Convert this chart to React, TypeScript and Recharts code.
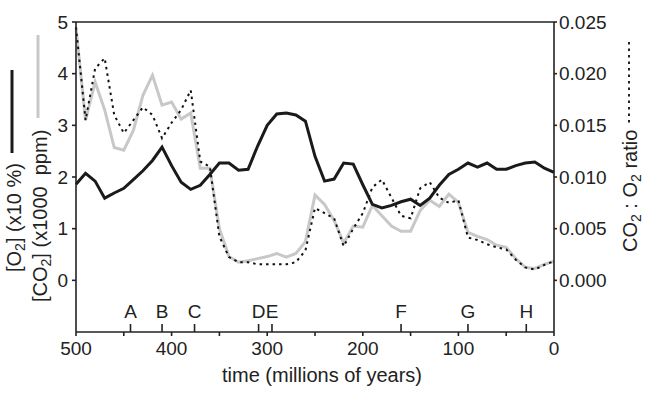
import { LineChart, Line, XAxis, YAxis, ReferenceLine, ReferenceDot } from "recharts";

const FONT = '"Liberation Sans", Arial, sans-serif';

// time in millions of years before present
const times = [
  500, 490, 480, 470, 460, 450, 440, 430, 420, 410, 400, 390, 380, 370, 360, 350, 340,
  330, 320, 310, 300, 290, 280, 270, 260, 250, 240, 230, 220, 210, 200, 190, 180, 170,
  160, 150, 140, 130, 120, 110, 100, 90, 80, 70, 60, 50, 40, 30, 20, 10, 0,
];

// [O2] (x10 %)
const o2 = [
  1.86, 2.07, 1.92, 1.59, 1.69, 1.78, 1.95, 2.12, 2.32, 2.58, 2.22, 1.9, 1.76, 1.84, 2.05,
  2.27, 2.27, 2.13, 2.15, 2.6, 3.0, 3.22, 3.24, 3.2, 3.08, 2.4, 1.92, 1.96, 2.27, 2.25,
  1.85, 1.47, 1.4, 1.45, 1.52, 1.57, 1.45, 1.59, 1.84, 2.05, 2.15, 2.27, 2.19, 2.27, 2.15,
  2.15, 2.22, 2.27, 2.29, 2.17, 2.09,
];

// [CO2] (x1000 ppm)
const co2 = [
  4.88, 3.1, 3.84, 3.3, 2.57, 2.52, 2.9, 3.58, 3.97, 3.39, 3.45, 3.12, 3.24, 2.17, 2.17,
  1.0, 0.46, 0.35, 0.38, 0.42, 0.46, 0.52, 0.45, 0.52, 0.75, 1.65, 1.47, 1.16, 0.72, 1.05,
  1.03, 1.45, 1.25, 1.05, 0.95, 0.95, 1.35, 1.55, 1.43, 1.67, 1.51, 0.93, 0.85, 0.79, 0.68,
  0.64, 0.42, 0.25, 0.23, 0.31, 0.37,
];

// CO2 : O2 ratio
const ratio = [
  0.0245, 0.0155, 0.0205, 0.0215, 0.016, 0.01425, 0.0155, 0.01675, 0.016, 0.01375, 0.01525,
  0.0165, 0.0184, 0.0115, 0.011, 0.00425, 0.00225, 0.00175, 0.00175, 0.00155, 0.00155,
  0.00155, 0.00155, 0.00175, 0.0029, 0.007, 0.0065, 0.006, 0.0033, 0.005, 0.0065, 0.009,
  0.00975, 0.008, 0.00625, 0.006, 0.0089, 0.0095, 0.008, 0.0075, 0.00775, 0.00415, 0.0039,
  0.0035, 0.0032, 0.003, 0.002, 0.00125, 0.00105, 0.0015, 0.00185,
];

const eventLabels = ["A", "B", "C", "D", "E", "F", "G", "H"];
const eventTimes = [443, 410, 376, 309, 295, 160, 90, 29];

const xTicks = [500, 450, 400, 350, 300, 250, 200, 150, 100, 50, 0];
const leftTicks = [0, 1, 2, 3, 4, 5];
const rightTicks = [0, 0.005, 0.01, 0.015, 0.02, 0.025];

const rows = times.map((t, i) => ({ time: t, o2: o2[i], co2: co2[i], ratio: ratio[i] }));

const tickStyle = { fontSize: 19, fill: "#222", fontFamily: FONT };

function EventMark({ cx, cy, text }: { cx: number; cy: number; text: string }) {
  return (
    <g>
      <line x1={cx} y1={cy} x2={cx} y2={cy - 8} stroke="#222" strokeWidth={1.6} />
      <text x={cx} y={cy - 14} textAnchor="middle" fontSize={19} fill="#222" fontFamily={FONT}>
        {text}
      </text>
    </g>
  );
}

function Titles() {
  return (
    <svg
      width={646}
      height={395}
      style={{ position: "absolute", left: 0, top: 0, pointerEvents: "none" }}
      fontFamily={FONT}
      fill="#222"
    >
      {/* left: O2 */}
      <line x1={12} y1={70} x2={12} y2={153} stroke="#1a1a1a" strokeWidth={3} />
      <text transform="translate(21,272) rotate(-90)" fontSize={20}>
        [O<tspan fontSize={14} dy={4}>2</tspan>
        <tspan dy={-4}>] (x10 %)</tspan>
      </text>
      {/* left: CO2 */}
      <line x1={38} y1={35} x2={38} y2={118} stroke="#c8c8c8" strokeWidth={3} />
      <text transform="translate(47,302) rotate(-90)" fontSize={20} style={{ whiteSpace: "pre" }}>
        [CO<tspan fontSize={14} dy={4}>2</tspan>
        <tspan dy={-4}>] (x1000  ppm)</tspan>
      </text>
      {/* right: ratio */}
      <line x1={629} y1={42} x2={629} y2={125} stroke="#222" strokeWidth={2} strokeDasharray="2.5 4" />
      <text transform="translate(637,252) rotate(-90)" fontSize={20}>
        CO<tspan fontSize={14} dy={4}>2</tspan>
        <tspan dy={-4}> : O</tspan>
        <tspan fontSize={14} dy={4}>2</tspan>
        <tspan dy={-4}> ratio</tspan>
      </text>
      <text x={322} y={382} textAnchor="middle" fontSize={20}>
        time (millions of years)
      </text>
    </svg>
  );
}

export default function App() {
  return (
    <div style={{ position: "absolute", left: 0, top: 0, width: 646, height: 395, background: "#fff" }}>
      <LineChart width={646} height={395} data={rows} margin={{ top: 22, right: 0, bottom: 0, left: 0 }}>
        <XAxis
          dataKey="time"
          type="number"
          domain={[0, 500]}
          reversed
          ticks={xTicks}
          tickFormatter={(v: number) => (v % 100 === 0 ? String(v) : "")}
          height={63}
          tickSize={4}
          tickMargin={6}
          tick={tickStyle}
          stroke="#222"
          strokeWidth={1.6}
        />
        <YAxis
          yAxisId="left"
          domain={[-1, 5]}
          ticks={leftTicks}
          width={76}
          tickSize={4}
          tickMargin={4}
          tick={tickStyle}
          stroke="#222"
          strokeWidth={1.6}
        />
        <YAxis
          yAxisId="right"
          orientation="right"
          domain={[-0.005, 0.025]}
          ticks={rightTicks}
          tickFormatter={(v: number) => v.toFixed(3)}
          width={92}
          tickSize={3}
          tickMargin={2}
          tick={tickStyle}
          stroke="#222"
          strokeWidth={1.6}
        />
        <ReferenceLine yAxisId="left" y={5} stroke="#222" strokeWidth={1.6} />
        <Line
          yAxisId="left"
          dataKey="co2"
          type="linear"
          stroke="#c8c8c8"
          strokeWidth={3}
          dot={false}
          isAnimationActive={false}
        />
        <Line
          yAxisId="right"
          dataKey="ratio"
          type="linear"
          stroke="#111"
          strokeWidth={2}
          strokeDasharray="2.5 4"
          dot={false}
          isAnimationActive={false}
        />
        <Line
          yAxisId="left"
          dataKey="o2"
          type="linear"
          stroke="#1a1a1a"
          strokeWidth={3}
          dot={false}
          isAnimationActive={false}
        />
        {eventTimes.map((t, i) => (
          <ReferenceDot
            key={eventLabels[i]}
            yAxisId="left"
            x={t}
            y={-1}
            ifOverflow="visible"
            shape={(p: any) => <EventMark cx={p.cx} cy={p.cy} text={eventLabels[i]} />}
          />
        ))}
      </LineChart>
      <Titles />
    </div>
  );
}
